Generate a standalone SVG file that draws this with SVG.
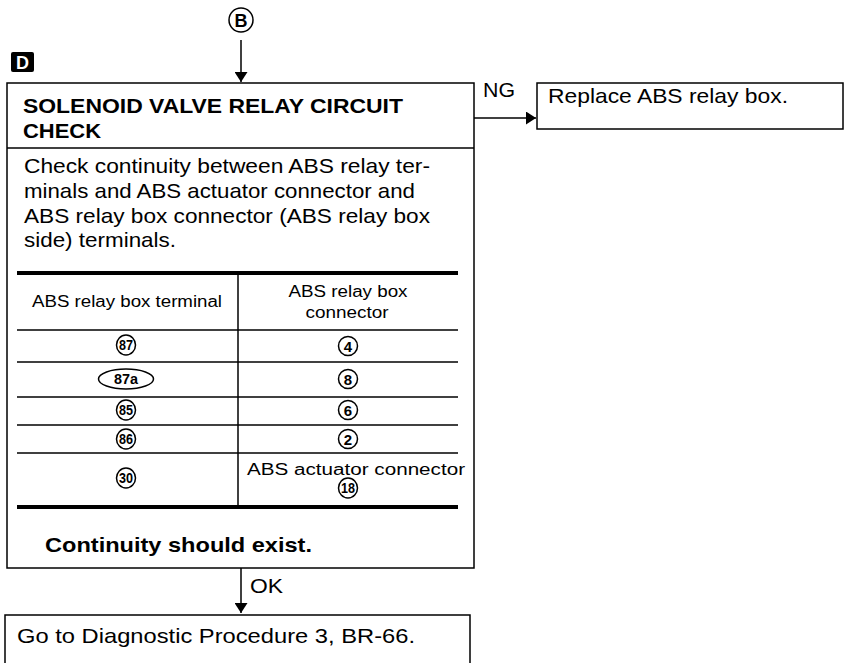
<svg xmlns="http://www.w3.org/2000/svg" width="846" height="663" viewBox="0 0 846 663">
<defs>
<marker id="ah" markerWidth="10" markerHeight="13" refX="10" refY="6.5" orient="auto" markerUnits="userSpaceOnUse">
<path d="M0,0 L10,6.5 L0,13 Z" fill="#000"/>
</marker>
<style>
text{font-family:"Liberation Sans",Arial,sans-serif;fill:#000}
.box{fill:#fff;stroke:#000;stroke-width:1.5}
.t{font-size:21px}
.b{font-size:21px;font-weight:bold}
.s{font-size:16px}
.n{font-size:14px;font-weight:bold;text-anchor:middle}
.c{text-anchor:middle}
.tl{stroke:#000;stroke-width:1.5}
.th{stroke:#000;stroke-width:4}
.ring{fill:#fff;stroke:#000;stroke-width:1.5}
.edge{stroke:#000;stroke-width:1.5;fill:none}
</style>
</defs>
<g id="ref-B">
<circle cx="241" cy="20" r="12" fill="#fff" stroke="#000" stroke-width="1.5"/>
<text x="241" y="26.5" class="c" style="font-size:18px;font-weight:bold">B</text>
</g>
<g id="label-D">
<rect x="11" y="52" width="23" height="20" rx="2" fill="#000"/>
<text x="22.5" y="68.5" class="c" style="font-size:18px;font-weight:bold;fill:#fff">D</text>
</g>
<g id="check">
<rect class="box" x="7" y="83" width="467" height="485"/>
<text x="23" y="113" class="b" textLength="380" lengthAdjust="spacingAndGlyphs">SOLENOID VALVE RELAY CIRCUIT</text>
<text x="23" y="138" class="b" textLength="78" lengthAdjust="spacingAndGlyphs">CHECK</text>
<line class="tl" x1="7" y1="148" x2="474" y2="148"/>
<text x="24" y="173" class="t" textLength="406" lengthAdjust="spacingAndGlyphs">Check continuity between ABS relay ter-</text>
<text x="24" y="198" class="t" textLength="391" lengthAdjust="spacingAndGlyphs">minals and ABS actuator connector and</text>
<text x="24" y="223" class="t" textLength="406" lengthAdjust="spacingAndGlyphs">ABS relay box connector (ABS relay box</text>
<text x="24" y="247" class="t" textLength="152" lengthAdjust="spacingAndGlyphs">side) terminals.</text>
<line class="th" x1="17" y1="273" x2="458" y2="273"/>
<line class="tl" x1="238" y1="273" x2="238" y2="507"/>
<text x="127" y="307" class="s c" textLength="190" lengthAdjust="spacingAndGlyphs">ABS relay box terminal</text>
<text x="348" y="297" class="s c" textLength="119" lengthAdjust="spacingAndGlyphs">ABS relay box</text>
<text x="347" y="318" class="s c" textLength="83" lengthAdjust="spacingAndGlyphs">connector</text>
<line class="tl" x1="17" y1="330" x2="458" y2="330"/>
<line class="tl" x1="17" y1="362" x2="458" y2="362"/>
<line class="tl" x1="17" y1="397" x2="458" y2="397"/>
<line class="tl" x1="17" y1="425" x2="458" y2="425"/>
<line class="tl" x1="17" y1="453" x2="458" y2="453"/>
<line class="th" x1="17" y1="507" x2="458" y2="507"/>
<ellipse class="ring" cx="126" cy="345" rx="9.5" ry="10"/><text x="126" y="350" class="n" textLength="14" lengthAdjust="spacingAndGlyphs">87</text>
<circle class="ring" cx="348" cy="346" r="9.5"/><text x="348" y="351.5" class="n" style="font-size:15px">4</text>
<ellipse class="ring" cx="126" cy="379" rx="27.5" ry="10"/><text x="126" y="384" class="n" textLength="24" lengthAdjust="spacingAndGlyphs">87a</text>
<circle class="ring" cx="348" cy="379" r="9.5"/><text x="348" y="384.5" class="n" style="font-size:15px">8</text>
<ellipse class="ring" cx="126" cy="410" rx="9.5" ry="10"/><text x="126" y="415" class="n" textLength="14" lengthAdjust="spacingAndGlyphs">85</text>
<circle class="ring" cx="348" cy="410" r="9.5"/><text x="348" y="415.5" class="n" style="font-size:15px">6</text>
<ellipse class="ring" cx="126" cy="439" rx="9.5" ry="10"/><text x="126" y="444" class="n" textLength="14" lengthAdjust="spacingAndGlyphs">86</text>
<circle class="ring" cx="348" cy="439" r="9.5"/><text x="348" y="444.5" class="n" style="font-size:15px">2</text>
<ellipse class="ring" cx="126" cy="478" rx="9.5" ry="10"/><text x="126" y="483" class="n" textLength="14" lengthAdjust="spacingAndGlyphs">30</text>
<text x="356" y="475" class="s c" textLength="218" lengthAdjust="spacingAndGlyphs">ABS actuator connector</text>
<ellipse class="ring" cx="348" cy="488" rx="9.5" ry="10"/><text x="348" y="493" class="n" textLength="14" lengthAdjust="spacingAndGlyphs">18</text>
<text x="45" y="552" class="b" textLength="267" lengthAdjust="spacingAndGlyphs">Continuity should exist.</text>
</g>
<g id="replace">
<rect class="box" x="537" y="83" width="306" height="46"/>
<text x="548" y="103" class="t" textLength="240" lengthAdjust="spacingAndGlyphs">Replace ABS relay box.</text>
</g>
<g id="goto">
<path class="box" d="M5,670 V615 H470 V670"/>
<text x="17" y="643" class="t" textLength="398" lengthAdjust="spacingAndGlyphs">Go to Diagnostic Procedure 3, BR-66.</text>
</g>
<g id="connectors">
<line class="edge" x1="241" y1="40" x2="241" y2="82" marker-end="url(#ah)"/>
<line class="edge" x1="474" y1="118" x2="536" y2="118" marker-end="url(#ah)"/>
<text x="483" y="97" class="t" textLength="32" lengthAdjust="spacingAndGlyphs">NG</text>
<line class="edge" x1="241" y1="568" x2="241" y2="613" marker-end="url(#ah)"/>
<text x="250" y="593" class="t" textLength="33" lengthAdjust="spacingAndGlyphs">OK</text>
</g>
</svg>
